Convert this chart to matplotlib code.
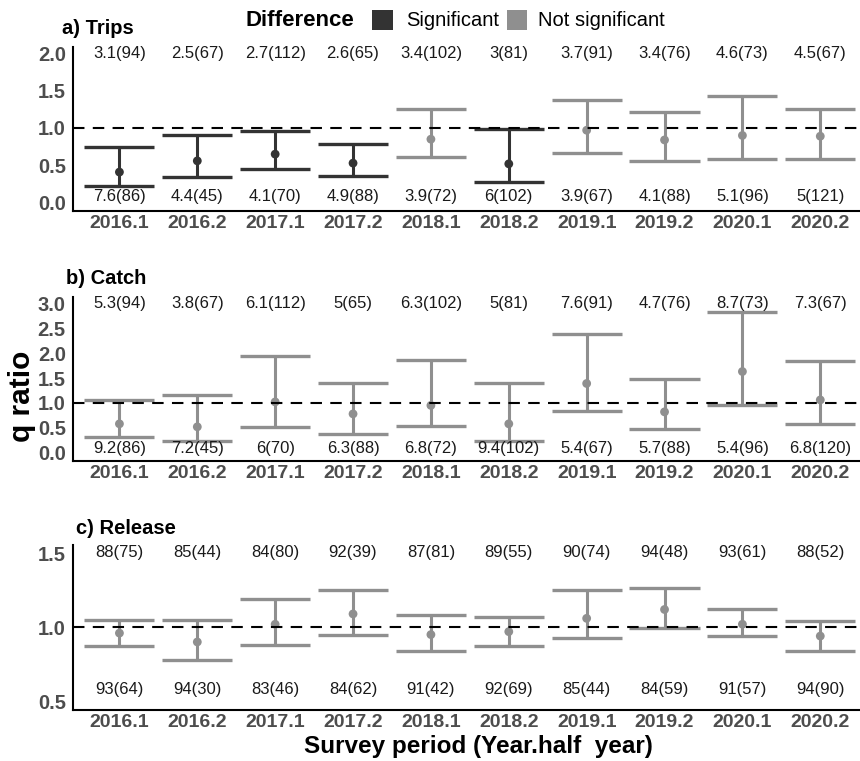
import matplotlib
matplotlib.use("Agg")
import matplotlib.pyplot as plt
from matplotlib.patches import Rectangle
import numpy as np

plt.rcParams['font.family'] = ['Liberation Sans', 'DejaVu Sans']

periods = ['2016.1', '2016.2', '2017.1', '2017.2', '2018.1',
           '2018.2', '2019.1', '2019.2', '2020.1', '2020.2']

# a) Trips
trips_est = [0.41, 0.56, 0.65, 0.53, 0.85, 0.52, 0.97, 0.84, 0.90, 0.89]
trips_lo = [0.22, 0.34, 0.45, 0.36, 0.61, 0.28, 0.66, 0.56, 0.58, 0.59]
trips_hi = [0.74, 0.91, 0.96, 0.78, 1.26, 0.98, 1.38, 1.21, 1.43, 1.25]
trips_sig = [True, True, True, True, False, True, False, False, False, False]
trips_top = ['3.1(94)', '2.5(67)', '2.7(112)', '2.6(65)', '3.4(102)',
             '3(81)', '3.7(91)', '3.4(76)', '4.6(73)', '4.5(67)']
trips_bottom = ['7.6(86)', '4.4(45)', '4.1(70)', '4.9(88)', '3.9(72)',
                '6(102)', '3.9(67)', '4.1(88)', '5.1(96)', '5(121)']

# b) Catch
catch_est = [0.58, 0.52, 1.02, 0.78, 0.95, 0.58, 1.39, 0.82, 1.63, 1.06]
catch_lo = [0.32, 0.24, 0.52, 0.38, 0.54, 0.24, 0.84, 0.47, 0.96, 0.57]
catch_hi = [1.06, 1.15, 1.94, 1.39, 1.86, 1.39, 2.39, 1.47, 2.83, 1.84]
catch_sig = [False] * 10
catch_top = ['5.3(94)', '3.8(67)', '6.1(112)', '5(65)', '6.3(102)',
             '5(81)', '7.6(91)', '4.7(76)', '8.7(73)', '7.3(67)']
catch_bottom = ['9.2(86)', '7.2(45)', '6(70)', '6.3(88)', '6.8(72)',
                '9.4(102)', '5.4(67)', '5.7(88)', '5.4(96)', '6.8(120)']

# c) Release
release_est = [0.96, 0.90, 1.02, 1.09, 0.95, 0.97, 1.06, 1.12, 1.02, 0.94]
release_lo = [0.875, 0.78, 0.88, 0.95, 0.84, 0.87, 0.93, 0.995, 0.94, 0.84]
release_hi = [1.05, 1.05, 1.19, 1.25, 1.08, 1.07, 1.25, 1.265, 1.125, 1.04]
release_sig = [False] * 10
release_top = ['88(75)', '85(44)', '84(80)', '92(39)', '87(81)',
               '89(55)', '90(74)', '94(48)', '93(61)', '88(52)']
release_bottom = ['93(64)', '94(30)', '83(46)', '84(62)', '91(42)',
                  '92(69)', '85(44)', '84(59)', '91(57)', '94(90)']

DARK = '#333333'
GREY = '#8f8f8f'
TICK_GREY = '#4d4d4d'

W, H = 860, 761
fig = plt.figure(figsize=(W / 100, H / 100), dpi=100)


def px_axes(left, top, right, bottom):
    return fig.add_axes([left / W, 1 - bottom / H, (right - left) / W, (bottom - top) / H])


panels = [
    dict(title='a) Trips', title_xy=(62, 29), box=(72.7, 46.7, 860, 210.7),
         ylim=(-0.107, 2.088), yticks=[0.0, 0.5, 1.0, 1.5, 2.0],
         top_y=2.0, bottom_y=0.08,
         est=trips_est, lo=trips_lo, hi=trips_hi, sig=trips_sig,
         top=trips_top, bottom=trips_bottom),
    dict(title='b) Catch', title_xy=(66, 279), box=(72.7, 297.3, 860, 460.7),
         ylim=(-0.16, 3.12), yticks=[0.0, 0.5, 1.0, 1.5, 2.0, 2.5, 3.0],
         top_y=3.0, bottom_y=0.075,
         est=catch_est, lo=catch_lo, hi=catch_hi, sig=catch_sig,
         top=catch_top, bottom=catch_bottom),
    dict(title='c) Release', title_xy=(76, 528), box=(72.7, 544.7, 860, 710.3),
         ylim=(0.437, 1.559), yticks=[0.5, 1.0, 1.5],
         top_y=1.507, bottom_y=0.575,
         est=release_est, lo=release_lo, hi=release_hi, sig=release_sig,
         top=release_top, bottom=release_bottom),
]

x = np.arange(1, len(periods) + 1)
half_w = 0.45

for p in panels:
    ax = px_axes(*p['box'])
    ax.set_xlim(0.4, 10.51)
    ax.set_ylim(*p['ylim'])
    colors = [DARK if s else GREY for s in p['sig']]
    ax.vlines(x, p['lo'], p['hi'], colors=colors, lw=2.2, zorder=2)
    ax.hlines(p['lo'], x - half_w, x + half_w, colors=colors, lw=2.4, zorder=2)
    ax.hlines(p['hi'], x - half_w, x + half_w, colors=colors, lw=2.4, zorder=2)
    ax.scatter(x, p['est'], s=40, c=colors, zorder=3, linewidths=0)
    ax.axhline(1.0, color='black', lw=1.5, linestyle=(0, (5.5, 4)), zorder=4)
    for xi, t, b in zip(x, p['top'], p['bottom']):
        ax.text(xi, p['top_y'], t, ha='center', va='center', fontsize=12, color='#1a1a1a')
        ax.text(xi, p['bottom_y'], b, ha='center', va='center', fontsize=12, color='#1a1a1a')
    ax.set_xticks(x)
    ax.set_xticklabels(periods, fontsize=14, fontweight='bold', color=TICK_GREY)
    ax.set_yticks(p['yticks'])
    ax.set_yticklabels([f'{v:.1f}' for v in p['yticks']], fontsize=14.5,
                       fontweight='bold', color=TICK_GREY)
    ax.tick_params(axis='both', length=0)
    ax.tick_params(axis='x', pad=3)
    ax.tick_params(axis='y', pad=5)
    for side in ['top', 'right']:
        ax.spines[side].set_visible(False)
    for side in ['left', 'bottom']:
        ax.spines[side].set_linewidth(1.5)
        ax.spines[side].set_color('black')
    ax.set_facecolor('none')
    tx, ty = p['title_xy']
    fig.text(tx / W, 1 - ty / H, p['title'], ha='left', va='center',
             fontsize=14.5, fontweight='bold', color='black')

# Axis titles
fig.text(22 / W, 1 - 396 / H, 'q ratio', rotation=90, ha='center', va='center',
         fontsize=21.5, fontweight='bold', color='black')
fig.text(478 / W, 1 - 746 / H, 'Survey period (Year.half  year)', ha='center',
         va='center', fontsize=17.5, fontweight='bold', color='black')

# Legend
fig.text(246 / W, 1 - 21 / H, 'Difference', ha='left', va='center',
         fontsize=16, fontweight='bold', color='black')
fig.patches.append(Rectangle((372.3 / W, 1 - 30 / H), 21 / W, 20 / H,
                             transform=fig.transFigure, facecolor=DARK, edgecolor='none'))
fig.text(405.7 / W, 1 - 21 / H, 'Significant', ha='left', va='center',
         fontsize=14.5, color='black')
fig.patches.append(Rectangle((506.7 / W, 1 - 30 / H), 20 / W, 20 / H,
                             transform=fig.transFigure, facecolor=GREY, edgecolor='none'))
fig.text(538.3 / W, 1 - 21 / H, 'Not significant', ha='left', va='center',
         fontsize=14.5, color='black')

fig.savefig('out.png', dpi=100, facecolor='white')
